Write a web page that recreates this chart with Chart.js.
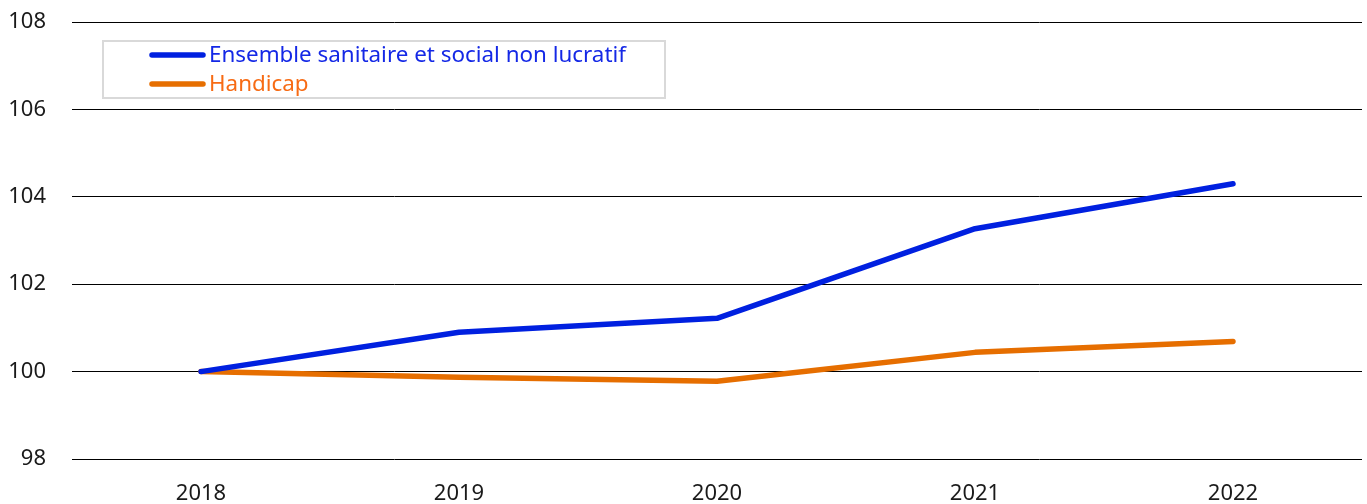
<!DOCTYPE html>
<html>
<head>
<meta charset="utf-8">
<script src="https://cdn.jsdelivr.net/npm/chart.js@4"></script>
<style>
  html, body { margin: 0; padding: 0; background: #fff; }
  #wrap { width: 1367px; height: 504px; position: relative; }
</style>
</head>
<body>
<div id="wrap"><canvas id="chart"></canvas></div>
<script>
// données (base 100 en 2018)
const years = ['2018', '2019', '2020', '2021', '2022'];
const ensembleValues = [100, 100.90, 101.22, 103.27, 104.30];
const handicapValues = [100, 99.87, 99.78, 100.44, 100.69];
const seriesLabels = ['Ensemble sanitaire et social non lucratif', 'Handicap'];

const FONT = '"Noto Sans", "Open Sans", sans-serif';

// légende dessinée dans un cadre à l'intérieur du graphique
const boxLegend = {
    id: 'boxLegend',
    afterDraw(chart) {
        const ctx = chart.ctx;
        ctx.save();
        ctx.strokeStyle = '#d9d9d9';
        ctx.lineWidth = 2;
        ctx.fillStyle = '#ffffff';
        ctx.fillRect(103, 41, 562, 57);
        ctx.strokeRect(103, 41, 562, 57);
        ctx.font = '22.4px ' + FONT;
        ctx.textBaseline = 'middle';
        chart.data.datasets.forEach((ds, i) => {
            const y = 55 + i * 29;
            ctx.strokeStyle = ds.borderColor;
            ctx.lineWidth = 5.5;
            ctx.lineCap = 'round';
            ctx.beginPath();
            ctx.moveTo(152, y);
            ctx.lineTo(203, y);
            ctx.stroke();
            ctx.fillStyle = ds.legendTextColor;
            ctx.fillText(ds.label, 209, y + 1);
        });
        ctx.restore();
    }
};

new Chart(document.getElementById('chart'), {
    type: 'line',
    data: {
        labels: years,
        datasets: [{
            label: seriesLabels[0],
            data: ensembleValues,
            borderColor: '#0020e0',
            legendTextColor: '#1428e6',
            borderWidth: 5.5,
            pointRadius: 0,
            tension: 0,
            borderCapStyle: 'round',
            borderJoinStyle: 'round'
        }, {
            label: seriesLabels[1],
            data: handicapValues,
            borderColor: '#e66e00',
            legendTextColor: '#f76b14',
            borderWidth: 5.5,
            pointRadius: 0,
            tension: 0,
            borderCapStyle: 'round',
            borderJoinStyle: 'round'
        }]
    },
    options: {
        responsive: true,
        maintainAspectRatio: false,
        animation: false,
        layout: { padding: { top: 22, right: 5, bottom: 0, left: 0 } },
        plugins: {
            legend: { display: false },
            tooltip: { enabled: false }
        },
        scales: {
            x: {
                offset: true,
                afterFit: (scale) => { scale.height = 45; },
                grid: { display: false },
                border: { display: false },
                ticks: {
                    color: '#1a1a1a',
                    padding: 14,
                    font: { family: FONT, size: 22 }
                }
            },
            y: {
                min: 98,
                max: 108,
                afterFit: (scale) => {
                    scale.width = 72;
                    scale.paddingTop = 0;
                    scale.paddingBottom = 0;
                },
                grid: { color: '#000000', lineWidth: 1, drawTicks: false },
                border: { display: false },
                ticks: {
                    stepSize: 2,
                    color: '#1a1a1a',
                    padding: 26,
                    font: { family: FONT, size: 22 }
                }
            }
        }
    },
    plugins: [boxLegend]
});
</script>
</body>
</html>
